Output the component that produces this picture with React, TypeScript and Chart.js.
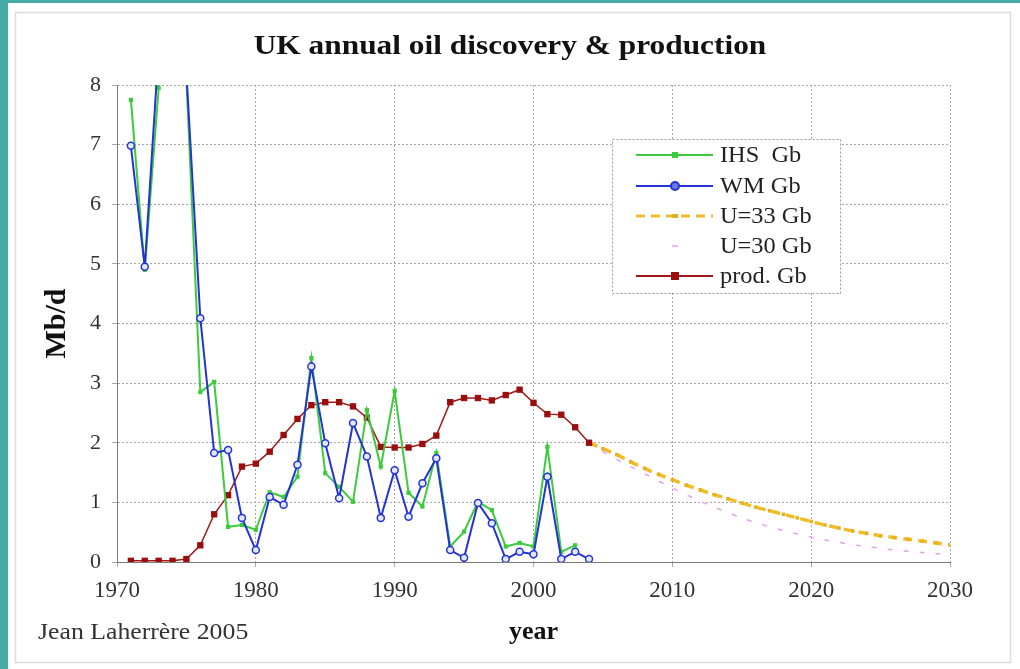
import React, { useEffect, useRef } from "react";
import { Chart, registerables } from "chart.js";

Chart.register(...registerables);

// ---------------- data ----------------
const histYears = [
  1971, 1972, 1973, 1974, 1975, 1976, 1977, 1978, 1979, 1980,
  1981, 1982, 1983, 1984, 1985, 1986, 1987, 1988, 1989, 1990,
  1991, 1992, 1993, 1994, 1995, 1996, 1997, 1998, 1999, 2000,
  2001, 2002, 2003, 2004,
];
// IHS discovery (1971-2003)
const ihsValues = [
  7.75, 4.9, 7.95, 12.0, 8.1, 2.85, 3.02, 0.59, 0.62, 0.54,
  1.17, 1.09, 1.43, 3.42, 1.49, 1.26, 1.01, 2.55, 1.6, 2.87,
  1.16, 0.93, 1.83, 0.26, 0.51, 1.01, 0.87, 0.26, 0.32, 0.26,
  1.93, 0.17, 0.28,
];
// WM discovery (1971-2004)
const wmValues = [
  6.98, 4.95, 8.6, 12.0, 8.2, 4.09, 1.83, 1.88, 0.74, 0.2,
  1.09, 0.96, 1.63, 3.28, 1.99, 1.07, 2.33, 1.77, 0.74, 1.54,
  0.76, 1.32, 1.74, 0.2, 0.07, 0.99, 0.65, 0.05, 0.17, 0.13,
  1.43, 0.05, 0.17, 0.05,
];
// production (1971-2004)
const prodValues = [
  0.02, 0.02, 0.02, 0.02, 0.05, 0.28, 0.8, 1.12, 1.6, 1.65,
  1.85, 2.13, 2.4, 2.63, 2.68, 2.68, 2.61, 2.42, 1.93, 1.92,
  1.92, 1.98, 2.12, 2.68, 2.75, 2.75, 2.71, 2.8, 2.89, 2.67,
  2.48, 2.47, 2.26, 2.0,
];
const forecastYears = [
  2004, 2005, 2006, 2007, 2008, 2009, 2010, 2011, 2012, 2013,
  2014, 2015, 2016, 2017, 2018, 2019, 2020, 2021, 2022, 2023,
  2024, 2025, 2026, 2027, 2028, 2029, 2030,
];
const u33Values = [
  2.0, 1.9, 1.8, 1.68, 1.57, 1.47, 1.38, 1.29, 1.21, 1.13,
  1.06, 0.99, 0.92, 0.86, 0.8, 0.74, 0.68, 0.62, 0.57, 0.52,
  0.48, 0.44, 0.41, 0.38, 0.35, 0.32, 0.29,
];
const u30Values = [
  2.0, 1.85, 1.72, 1.6, 1.48, 1.36, 1.24, 1.13, 1.02, 0.92,
  0.83, 0.74, 0.66, 0.59, 0.53, 0.47, 0.42, 0.37, 0.33, 0.29,
  0.26, 0.23, 0.2, 0.18, 0.16, 0.14, 0.13,
];
const xTickValues = [1970, 1980, 1990, 2000, 2010, 2020, 2030];
const yTickValues = [0, 1, 2, 3, 4, 5, 6, 7, 8];
const seriesLabels = ["IHS  Gb", "WM Gb", "U=33 Gb", "U=30 Gb", "prod. Gb"];
const chartTitle = "UK annual oil discovery & production";
const yTitle = "Mb/d";
const xTitle = "year";
const creditText = "Jean Laherrère 2005";

// ---------------- styles ----------------
const SERIF = "'Liberation Serif', 'Times New Roman', serif";
const GREEN = "#3ccb3c";
const BLUE = "#2433d6";
const RED = "#a01818";
const YELLOW = "#f0bc28";
const PINK = "#e2a2ec";
const TEAL = "#47aaa7";

const pairs = (xs: number[], ys: number[]) => ys.map((y, i) => ({ x: xs[i], y }));

function stretchedText(ctx: any, text: string, x: number, y: number, sx: number, align: string) {
  ctx.save();
  ctx.translate(x, y);
  ctx.scale(sx, 1);
  ctx.textAlign = align;
  ctx.fillText(text, 0, 0);
  ctx.restore();
}

const framePlugin = {
  id: "frame",
  beforeDraw(chart: any) {
    const { ctx, width, height } = chart;
    ctx.save();
    ctx.fillStyle = TEAL;
    ctx.fillRect(0, 0, width, height);
    ctx.fillStyle = "#ffffff";
    ctx.fillRect(8, 3, width - 8, height - 3);
    ctx.strokeStyle = "#dcdcdc";
    ctx.lineWidth = 1.5;
    ctx.strokeRect(15.5, 12.5, 995, 650);
    ctx.restore();
  },
  afterDraw(chart: any) {
    const { ctx } = chart;
    ctx.save();
    ctx.textBaseline = "middle";
    // title
    ctx.fillStyle = "#111";
    ctx.font = `bold 28px ${SERIF}`;
    stretchedText(ctx, chartTitle, 510, 47, 1.12, "center");
    // credit
    ctx.font = `23px ${SERIF}`;
    ctx.fillStyle = "#333";
    stretchedText(ctx, creditText, 38, 633, 1.12, "left");

    // legend
    const bx = 612, by = 139, bw = 228, bh = 154;
    ctx.fillStyle = "#ffffff";
    ctx.fillRect(bx, by, bw, bh);
    ctx.setLineDash([2, 2]);
    ctx.strokeStyle = "#999";
    ctx.lineWidth = 1;
    ctx.strokeRect(bx + 0.5, by + 0.5, bw, bh);
    ctx.setLineDash([]);
    const rows = [155, 186, 216, 246, 276];
    const x0 = 636, x1 = 713, xm = 675;
    ctx.font = `23px ${SERIF}`;
    rows.forEach((ry, i) => {
      ctx.save();
      if (i === 0) {
        ctx.strokeStyle = GREEN; ctx.lineWidth = 2;
        ctx.beginPath(); ctx.moveTo(x0, ry); ctx.lineTo(x1, ry); ctx.stroke();
        ctx.fillStyle = GREEN; ctx.fillRect(xm - 3, ry - 3, 6, 6);
      } else if (i === 1) {
        ctx.strokeStyle = BLUE; ctx.lineWidth = 2;
        ctx.beginPath(); ctx.moveTo(x0, ry); ctx.lineTo(x1, ry); ctx.stroke();
        ctx.fillStyle = "#6c78e8";
        ctx.beginPath(); ctx.arc(xm, ry, 4, 0, Math.PI * 2); ctx.fill();
        ctx.stroke();
      } else if (i === 2) {
        ctx.strokeStyle = YELLOW; ctx.lineWidth = 3; ctx.setLineDash([9, 6]);
        ctx.beginPath(); ctx.moveTo(x0, ry); ctx.lineTo(x1, ry); ctx.stroke();
        ctx.setLineDash([]);
        ctx.fillStyle = "#d8b020"; ctx.fillRect(xm - 3, ry - 2, 6, 4);
      } else if (i === 3) {
        ctx.strokeStyle = PINK; ctx.lineWidth = 1.5;
        ctx.beginPath(); ctx.moveTo(xm - 3, ry); ctx.lineTo(xm + 3, ry); ctx.stroke();
      } else {
        ctx.strokeStyle = RED; ctx.lineWidth = 2;
        ctx.beginPath(); ctx.moveTo(x0, ry); ctx.lineTo(x1, ry); ctx.stroke();
        ctx.fillStyle = "#9a0e0e"; ctx.fillRect(xm - 4, ry - 4, 8, 8);
      }
      ctx.restore();
      ctx.fillStyle = "#222";
      stretchedText(ctx, seriesLabels[i], 720, ry + 1, 1.06, "left");
    });
    ctx.restore();
  },
};

export default function App() {
  const canvasRef = useRef<HTMLCanvasElement | null>(null);

  useEffect(() => {
    const canvas = canvasRef.current;
    if (!canvas) return;
    const chart = new Chart(canvas, {
      type: "line",
      data: {
        datasets: [
          {
            label: seriesLabels[1],
            data: pairs(histYears, wmValues),
            borderColor: BLUE,
            borderWidth: 2,
            pointStyle: "circle",
            pointRadius: 3.5,
            pointBorderWidth: 1.5,
            pointBorderColor: BLUE,
            pointBackgroundColor: "#e4e8ff",
            tension: 0,
          },
          {
            label: seriesLabels[0],
            data: pairs(histYears, ihsValues),
            borderColor: GREEN,
            borderWidth: 2,
            pointStyle: "rect",
            pointRadius: 3,
            pointBorderWidth: 0,
            pointBackgroundColor: GREEN,
            tension: 0,
          },
          {
            label: seriesLabels[4],
            data: pairs(histYears, prodValues),
            borderColor: RED,
            borderWidth: 1.5,
            pointStyle: "rect",
            pointRadius: 4.5,
            pointBorderWidth: 0,
            pointBackgroundColor: "#9a0e0e",
            tension: 0,
          },
          {
            label: seriesLabels[2],
            data: pairs(forecastYears, u33Values),
            borderColor: YELLOW,
            borderWidth: 3.5,
            borderDash: [9, 6],
            pointStyle: "rect",
            pointRadius: 2.5,
            pointBorderWidth: 0,
            pointBackgroundColor: "#e8b020",
            tension: 0.3,
          },
          {
            label: seriesLabels[3],
            data: pairs(forecastYears, u30Values),
            borderColor: PINK,
            borderWidth: 1.5,
            borderDash: [5, 11],
            pointRadius: 0,
            tension: 0.3,
          },
        ],
      },
      options: {
        responsive: false,
        animation: false,
        devicePixelRatio: 1,
        layout: { padding: { left: 0, right: 0, top: 85, bottom: 0 } },
        plugins: {
          legend: { display: false },
          title: { display: false },
          tooltip: { enabled: false },
        },
        scales: {
          x: {
            type: "linear",
            min: 1970,
            max: 2030,
            afterBuildTicks: (axis: any) => {
              axis.ticks = xTickValues.map((v) => ({ value: v }));
            },
            afterFit: (axis: any) => {
              axis.height = 107;
            },
            ticks: {
              autoSkip: false,
              maxRotation: 0,
              padding: 10,
              color: "#333",
              font: { family: SERIF, size: 23 },
              callback: (v: any) => String(v),
            },
            grid: { color: "#a8a8a8", tickLength: 5, lineWidth: 1 },
            border: { display: true, color: "#7a7a7a", width: 1, dash: [2, 2] },
            title: {
              display: true,
              text: xTitle,
              color: "#111",
              font: { family: SERIF, size: 26, weight: "bold" },
              padding: { top: 0, bottom: 21 },
            },
          },
          y: {
            type: "linear",
            min: 0,
            max: 8,
            afterBuildTicks: (axis: any) => {
              axis.ticks = yTickValues.map((v) => ({ value: v }));
            },
            afterFit: (axis: any) => {
              axis.width = 117;
            },
            ticks: {
              padding: 11,
              color: "#333",
              font: { family: SERIF, size: 22 },
              callback: (v: any) => String(v),
            },
            grid: { color: "#a8a8a8", tickLength: 5, lineWidth: 1 },
            border: { display: true, color: "#7a7a7a", width: 1, dash: [2, 2] },
            title: {
              display: true,
              text: yTitle,
              color: "#111",
              font: { family: SERIF, size: 30, weight: "bold" },
              padding: { top: 39, bottom: 0 },
            },
          },
          yRight: {
            type: "linear",
            position: "right",
            display: true,
            min: 0,
            max: 8,
            afterFit: (axis: any) => {
              axis.width = 70;
            },
            ticks: { display: false },
            grid: { display: false, drawOnChartArea: false },
            border: { display: false },
          },
        },
      },
      plugins: [framePlugin],
    } as any);
    return () => chart.destroy();
  }, []);

  return (
    <div style={{ position: "fixed", left: 0, top: 0, width: 1020, height: 669 }}>
      <canvas ref={canvasRef} width={1020} height={669} style={{ display: "block" }} />
    </div>
  );
}
